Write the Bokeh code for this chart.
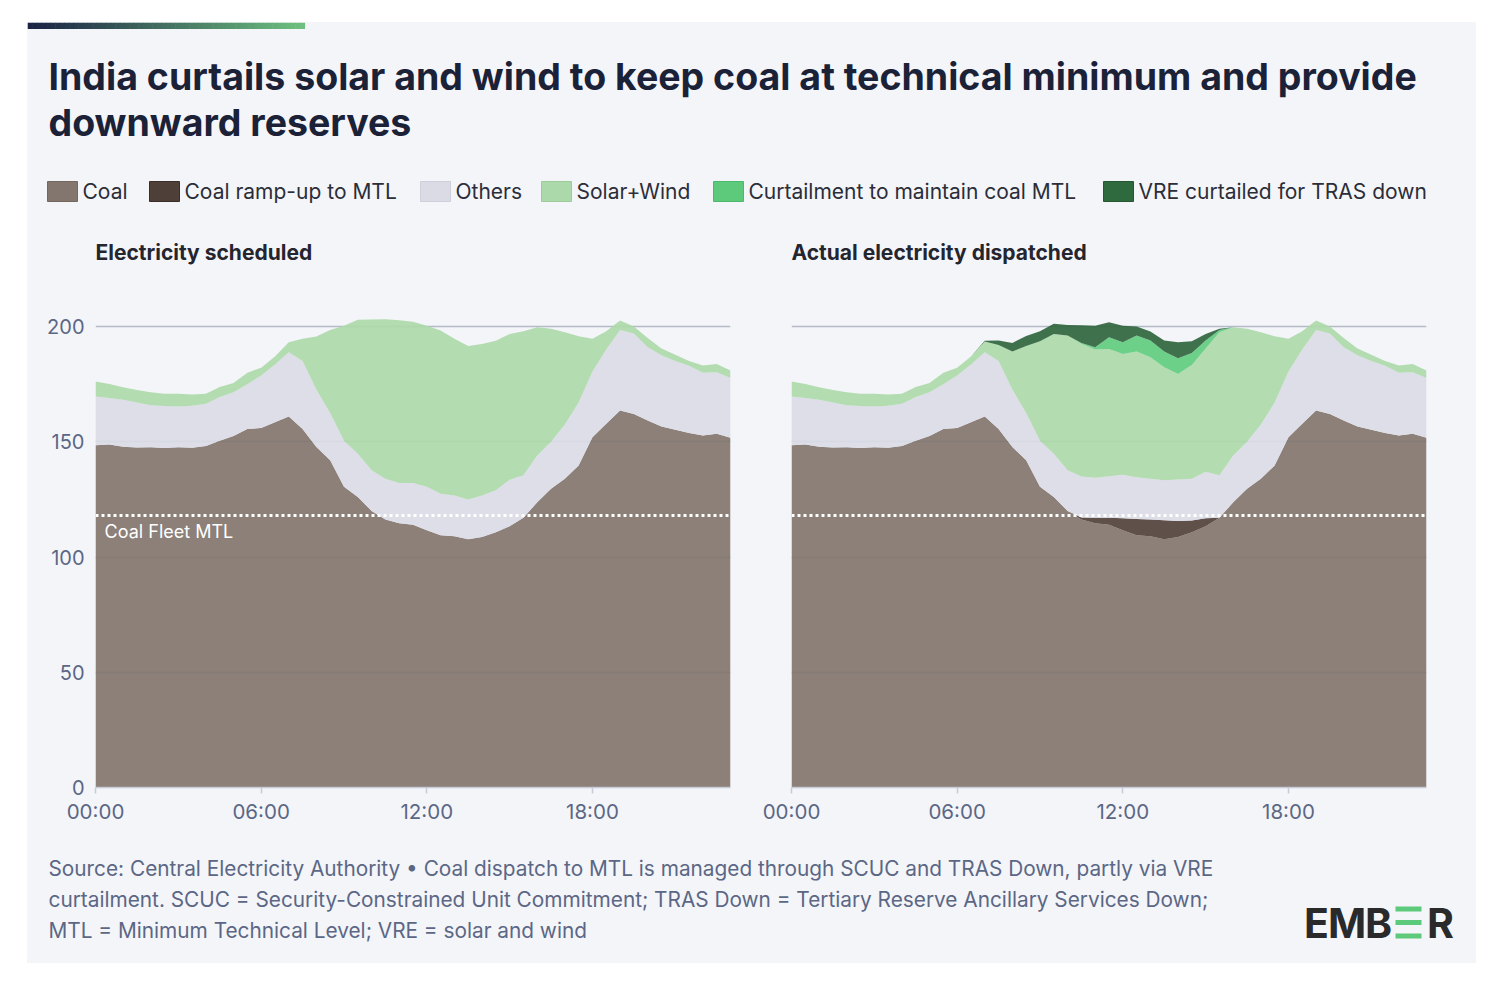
import numpy as np
from bokeh.plotting import figure
from bokeh.models import Range1d, FixedTicker, Span, Label, Spacer
from bokeh.layouts import row, column
from bokeh.core.properties import value
from bokeh.embed import file_html
from bokeh.resources import INLINE

# ---------------- data (GW, half-hourly from 00:00 to 23:00) ----------------
hours = [i * 0.5 for i in range(47)]

coal = [148.5, 148.8, 147.8, 147.5, 147.6, 147.3, 147.6, 147.4, 148.2, 150.5,
        152.5, 155.5, 156.0, 158.5, 161.0, 155.5, 147.7, 142.0, 130.5, 126.0,
        120.0, 116.3, 114.7, 114.0, 111.6, 109.4, 109.0, 107.7, 108.7, 110.8,
        113.3, 117.0, 123.8, 129.6, 134.0, 139.7, 152.0, 157.8, 163.6, 162.1,
        159.2, 156.6, 155.2, 153.8, 152.7, 153.5, 151.7]

others = [21.2, 20.2, 20.4, 19.5, 18.2, 18.2, 17.7, 18.2, 18.3, 18.9,
          19.0, 19.5, 22.8, 25.0, 27.9, 29.5, 25.0, 20.5, 20.0, 18.8,
          17.6, 17.7, 17.4, 18.1, 18.9, 18.1, 17.7, 17.3, 18.0, 18.2,
          20.2, 18.5, 20.2, 20.4, 23.5, 27.3, 28.5, 32.2, 34.9, 34.9,
          31.8, 30.9, 29.8, 29.2, 27.3, 26.7, 26.0]

solar_wind_scheduled = [6.5, 6.1, 5.5, 5.5, 5.7, 5.3, 5.5, 4.9, 4.3, 4.4,
                        4.0, 5.0, 3.3, 3.5, 4.3, 9.7, 23.0, 36.0, 49.9, 58.2,
                        65.5, 69.2, 70.6, 70.0, 69.8, 70.8, 68.0, 66.6, 65.7, 64.8,
                        63.3, 62.5, 55.7, 49.0, 40.0, 28.8, 14.2, 8.0, 4.1, 3.0,
                        4.0, 3.0, 2.8, 2.0, 3.1, 3.6, 3.2]

coal_rampup = [0, 0, 0, 0, 0, 0, 0, 0, 0, 0,
               0, 0, 0, 0, 0, 0, 0, 0, 0, 0,
               0, 0.9, 2.3, 3.0, 5.2, 7.1, 7.3, 8.3, 6.9, 5.0,
               3.5, 0, 0, 0, 0, 0, 0, 0, 0, 0,
               0, 0, 0, 0, 0, 0, 0]

solar_wind_actual = [6.5, 6.1, 5.5, 5.5, 5.7, 5.3, 5.5, 4.9, 4.3, 4.4,
                     4.0, 5.0, 3.3, 3.5, 4.6, 7.0, 16.5, 29.1, 43.1, 52.0,
                     58.5, 57.6, 55.6, 55.2, 52.4, 54.6, 52.7, 49.0, 45.8, 49.3,
                     53.5, 62.0, 55.7, 49.0, 40.0, 28.8, 14.2, 8.0, 4.1, 3.0,
                     4.0, 3.0, 2.8, 2.0, 3.1, 3.6, 3.2]

curtail_mtl = [0, 0, 0, 0, 0, 0, 0, 0, 0, 0,
               0, 0, 0, 0, 0, 0, 0, 0, 0, 0,
               0, 0.4, 1.0, 5.1, 5.1, 6.9, 7.2, 6.9, 6.8, 5.2,
               3.4, 1.0, 0, 0, 0, 0, 0, 0, 0, 0,
               0, 0, 0, 0, 0, 0, 0]

curtail_tras = [0, 0, 0, 0, 0, 0, 0, 0, 0, 0,
                0, 0, 0, 0, 0.3, 1.9, 3.7, 4.3, 4.4, 4.4,
                4.6, 7.7, 9.3, 6.5, 7.2, 3.9, 3.9, 4.7, 7.0, 5.1,
                2.9, 0.5, 0, 0, 0, 0, 0, 0, 0, 0,
                0, 0, 0, 0, 0, 0, 0]

coal_fleet_mtl = 118
y_ticks = [0, 50, 100, 150, 200]
x_ticks = [0, 6, 12, 18]
x_tick_labels = ["00:00", "06:00", "12:00", "18:00"]

series_names = ["Coal", "Coal ramp-up to MTL", "Others", "Solar+Wind",
                "Curtailment to maintain coal MTL", "VRE curtailed for TRAS down"]

# ---------------- styles ----------------
FONT = "Inter"
PANEL = "#f4f5f9"
TITLE_C = "#1b2238"
TEXT_C = "#2b2d38"
MUTED = "#5b6785"
C_COAL = "#83766f"
C_RAMP = "#53433c"
C_OTHERS = "#dadbe5"
C_SOLAR = "#add9aa"
C_CURT = "#62cc80"
C_TRAS = "#32663f"
LEG_FILL = [C_COAL, "#4f3f39", C_OTHERS, "#acd9a9", "#5cc97b", "#2f6a3e"]
LEG_LINE = ["#74675f", "#3b2e29", "#cdcfdb", "#9dcc9a", "#4cb86b", "#255732"]


def chart(layers, width, b_left, b_right, show_y, show_mtl_label):
    p = figure(width=width, height=540, x_range=Range1d(0, 23), y_range=Range1d(0, 210),
               output_backend="svg", toolbar_location=None,
               min_border_left=b_left, min_border_right=b_right,
               min_border_top=3, min_border_bottom=53,
               background_fill_color=PANEL, border_fill_color=PANEL,
               outline_line_color=None)
    base = np.zeros(len(hours))
    for vals, col in layers:
        top = base + np.array(vals, dtype=float)
        p.varea(x=hours, y1=base, y2=top, fill_color=col, fill_alpha=0.93)
        base = top

    p.xgrid.visible = False
    p.ygrid.ticker = FixedTicker(ticks=y_ticks)
    p.ygrid.grid_line_color = "#b3bac8"
    p.ygrid.grid_line_width = 1.5

    xa = p.xaxis[0]
    xa.ticker = FixedTicker(ticks=x_ticks)
    xa.major_label_overrides = {t: lab for t, lab in zip(x_ticks, x_tick_labels)}
    xa.axis_line_color = "#c5cbd7"
    xa.axis_line_width = 1.5
    xa.major_tick_line_color = "#c5cbd7"
    xa.major_tick_line_width = 1.5
    xa.major_tick_out = 6
    xa.major_tick_in = 0
    xa.minor_tick_line_color = None
    xa.major_label_standoff = 5
    xa.major_label_text_font = FONT
    xa.major_label_text_font_size = "20.5px"
    xa.major_label_text_color = MUTED

    ya = p.yaxis[0]
    if show_y:
        ya.ticker = FixedTicker(ticks=y_ticks)
        ya.axis_line_color = None
        ya.major_tick_line_color = None
        ya.minor_tick_line_color = None
        ya.major_tick_out = 0
        ya.major_tick_in = 0
        ya.major_label_standoff = 11
        ya.major_label_text_font = FONT
        ya.major_label_text_font_size = "20px"
        ya.major_label_text_color = MUTED
    else:
        ya.visible = False

    p.add_layout(Span(location=coal_fleet_mtl, dimension="width", line_color="white",
                      line_width=3, line_dash="3 3"))
    if show_mtl_label:
        p.add_layout(Label(x=0.33, y=coal_fleet_mtl - 7, text="Coal Fleet MTL",
                           text_color="white", text_font=FONT, text_font_size="18px",
                           text_baseline="middle"))
    return p


left = chart([(coal, C_COAL), (others, C_OTHERS), (solar_wind_scheduled, C_SOLAR)],
             733, 68, 30, True, True)
right = chart([(coal, C_COAL), (coal_rampup, C_RAMP), (others, C_OTHERS),
               (solar_wind_actual, C_SOLAR), (curtail_mtl, C_CURT), (curtail_tras, C_TRAS)],
              716, 31, 50, False, False)

# ---------------- header ----------------
hdr = figure(width=1449, height=278, x_range=Range1d(27, 1476), y_range=Range1d(300, 22),
             output_backend="svg", toolbar_location=None, x_axis_type=None, y_axis_type=None,
             min_border=0, background_fill_color=PANEL, border_fill_color=PANEL,
             outline_line_color=None)
hdr.grid.visible = False

# gradient accent bar
n_seg = 60
c0 = np.array([0x1c, 0x23, 0x45])
c1 = np.array([0x6d, 0xc0, 0x7f])
xs = np.linspace(27, 304, n_seg + 1)
seg_cols = ["#%02x%02x%02x" % tuple((c0 + (c1 - c0) * (i / (n_seg - 1))).astype(int)) for i in range(n_seg)]
hdr.quad(left=xs[:-1], right=xs[1:] + 0.6, top=22, bottom=28.5, fill_color=seg_cols, line_color=None)

hdr.text(x=[48, 48], y=[76, 122],
         text=["India curtails solar and wind to keep coal at technical minimum and provide",
               "downward reserves"],
         text_font=value(FONT), text_font_style="bold", text_font_size="37.5px",
         text_color=TITLE_C, text_baseline="middle")

leg_sq = [47, 149, 420, 541, 713, 1103]
hdr.quad(left=leg_sq, right=[v + 30 for v in leg_sq], top=181, bottom=201,
         fill_color=LEG_FILL, line_color=LEG_LINE, line_width=1)
hdr.text(x=[v + 35 for v in leg_sq], y=[191] * 6, text=series_names,
         text_font=value(FONT), text_font_size="21px", text_color=TEXT_C,
         text_baseline="middle")

hdr.text(x=[95, 791], y=[252, 252], text=["Electricity scheduled", "Actual electricity dispatched"],
         text_font=value(FONT), text_font_style="bold", text_font_size="21px",
         text_color="#24252e", text_baseline="middle")

# ---------------- footer ----------------
ftr = figure(width=1449, height=123, x_range=Range1d(27, 1476), y_range=Range1d(963, 840),
             output_backend="svg", toolbar_location=None, x_axis_type=None, y_axis_type=None,
             min_border=0, background_fill_color=PANEL, border_fill_color=PANEL,
             outline_line_color=None)
ftr.grid.visible = False
ftr.text(x=[48, 48, 48], y=[868, 899, 930],
         text=["Source: Central Electricity Authority \u2022 Coal dispatch to MTL is managed through SCUC and TRAS Down, partly via VRE",
               "curtailment. SCUC = Security-Constrained Unit Commitment; TRAS Down = Tertiary Reserve Ancillary Services Down;",
               "MTL = Minimum Technical Level; VRE = solar and wind"],
         text_font=value(FONT), text_font_size="20.8px", text_color=MUTED, text_baseline="middle")

# EMBER logo
ftr.text(x=[1316, 1346.5, 1378, 1440], y=[922] * 4, text=["E", "M", "B", "R"],
         text_font=value(FONT), text_font_style="bold", text_font_size="41px",
         text_color="#2a2a2a", text_baseline="middle", text_align="center")
ftr.quad(left=[1395] * 3, right=[1421] * 3, top=[906, 919.5, 933], bottom=[911, 924.5, 938],
         fill_color="#5cc97b", line_color=None)

panel = column(hdr, row(left, right), ftr, styles={"background-color": PANEL})
layout = row(Spacer(width=27), column(Spacer(height=22), panel))

open("out.html", "w").write(file_html(layout, INLINE))
